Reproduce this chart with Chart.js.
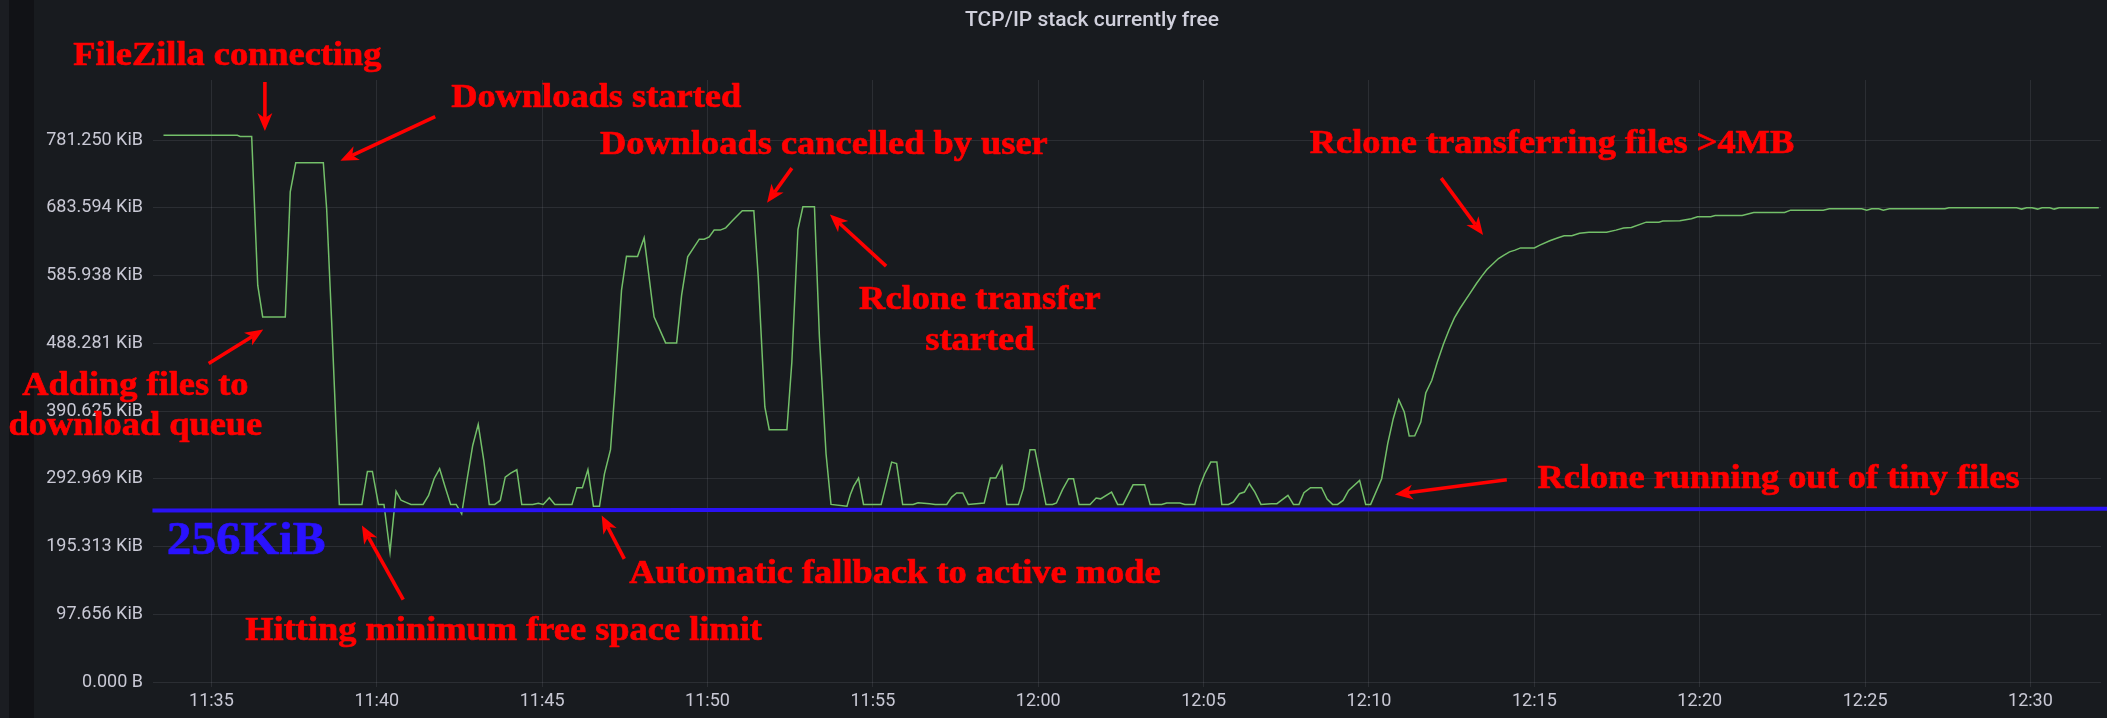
<!DOCTYPE html>
<html>
<head>
<meta charset="utf-8">
<script src="https://cdn.jsdelivr.net/npm/chart.js@4.4.1/dist/chart.umd.min.js"></script>
<style>
  html, body { margin: 0; padding: 0; background: #181b1f; }
  #wrap { width: 2107px; height: 718px; }
</style>
</head>
<body>
<div id="wrap"><canvas id="c" width="2107" height="718"></canvas></div>
<script>
// ---- data ----
const times = [
 '11:33:33','11:35:47','11:35:52','11:36:13','11:36:24','11:36:33','11:37:14','11:37:23','11:37:33','11:38:23',
 '11:38:29','11:38:38','11:38:52','11:39:33','11:39:43','11:39:52','11:40:03','11:40:13','11:40:24','11:40:35',
 '11:40:44','11:40:53','11:41:02','11:41:24','11:41:34','11:41:44','11:41:54','11:42:04','11:42:14','11:42:24',
 '11:42:34','11:42:44','11:42:54','11:43:04','11:43:14','11:43:24','11:43:34','11:43:44','11:43:53','11:44:03',
 '11:44:14','11:44:23','11:44:43','11:44:53','11:45:02','11:45:13','11:45:23','11:45:54','11:46:03','11:46:13',
 '11:46:23','11:46:33','11:46:44','11:46:53','11:47:04','11:47:12','11:47:24','11:47:33','11:47:53','11:48:05',
 '11:48:23','11:48:44','11:49:04','11:49:13','11:49:24','11:49:45','11:49:54','11:50:03','11:50:12','11:50:23',
 '11:50:33','11:50:45','11:51:03','11:51:24','11:51:32','11:51:44','11:51:52','11:52:24','11:52:33','11:52:44',
 '11:52:53','11:53:14','11:53:23','11:53:35','11:53:44','11:54:13','11:54:19','11:54:25','11:54:34','11:54:43',
 '11:55:15','11:55:34','11:55:43','11:55:54','11:56:13','11:56:22','11:56:43','11:56:53','11:57:14','11:57:23',
 '11:57:32','11:57:43','11:57:53','11:58:22','11:58:33','11:58:43','11:58:54','11:59:03','11:59:24','11:59:33',
 '11:59:45','11:59:54','12:00:04','12:00:14','12:00:26','12:00:33','12:00:44','12:00:55','12:01:04','12:01:14',
 '12:01:34','12:01:45','12:01:53','12:02:13','12:02:24','12:02:34','12:02:52','12:03:13','12:03:23','12:03:44',
 '12:03:53','12:04:17','12:04:26','12:04:44','12:04:53','12:05:02','12:05:13','12:05:24','12:05:33','12:05:45',
 '12:05:54','12:06:05','12:06:14','12:06:23','12:06:33','12:06:44','12:07:03','12:07:13','12:07:33','12:07:43',
 '12:07:53','12:08:02','12:08:14','12:08:34','12:08:44','12:08:54','12:09:03','12:09:13','12:09:23','12:09:43',
 '12:09:54','12:10:03','12:10:23','12:10:34','12:10:44','12:10:54','12:11:04','12:11:13','12:11:23','12:11:34',
 '12:11:43','12:11:54','12:12:04','12:12:15','12:12:25','12:12:35','12:12:45','12:12:55','12:13:05','12:13:15',
 '12:13:25','12:13:34','12:13:44','12:13:55','12:14:05','12:14:15','12:14:25','12:14:35','12:15:00','12:15:10',
 '12:15:28','12:15:43','12:15:54','12:16:08','12:16:22','12:16:39','12:17:11','12:17:28','12:17:42','12:17:56',
 '12:18:23','12:18:46','12:18:53','12:19:24','12:19:45','12:19:56','12:20:20','12:20:28','12:21:17','12:21:38',
 '12:22:34','12:22:45','12:23:44','12:23:55','12:24:54','12:25:03','12:25:12','12:25:25','12:25:33','12:25:44',
 '12:27:25','12:27:32','12:29:35','12:29:44','12:29:53','12:30:03','12:30:13','12:30:21','12:30:35','12:30:43',
 '12:30:52','12:32:04'
];
const freeKiB = [
 788,788,786.5,786.5,572,526.3,526.3,706.7,748.5,748.5,
 682.6,521.5,256,256,303.6,303.6,256,256,187.2,275,
 262,259,256,256,268.9,293,307.4,281,256,256,
 242.5,293,341,371.4,320,256,256,261.7,295.4,301,
 306,256,256,257.6,256,265.6,256,256,280,280,
 306,253.5,253.5,300,334.9,420.5,564.8,613.8,613.5,640.3,
 526.3,488.8,488.8,557.6,612.8,638.4,638.4,641.7,651.4,651.4,
 654.7,664.8,679.3,679.3,584,396.4,363.7,363.7,461.3,652.3,
 685,685,497.4,329.1,256,253.5,270,281.9,293.9,256,
 256,317,314.8,256,256,258.5,257,256,256,266.5,
 272.4,272.4,256,258,293.9,293.9,311.2,256,256,278.7,
 334.9,334.9,295.4,256,256,258,277.2,293,293,256,
 256,265.1,264,273.8,256,256,284.2,284.2,256,256,
 258,258,256,256,282,300.2,317,317,256,256,
 259.4,271.4,273.8,285.8,273.8,256,257,257,268.9,256,
 256,272.8,280,280,263.7,256,256,261.7,276.2,290.7,
 256,256,293,343.5,379.6,407,389.2,354.5,355,374.7,
 416.6,434.9,461.3,486.9,507.1,524.8,538.4,550.4,562.4,574.5,
 585.4,594.7,602.3,610.5,615.3,620.1,622.5,625.8,625.8,629.7,
 636,640.3,643.2,643.2,647,648.5,648.5,651.4,654.3,655.2,
 662.9,662.9,664.4,664.8,667.7,670.6,670.6,672.5,672.5,676.8,
 676.8,680.2,680.2,682.1,682.1,680.2,682.1,682.1,680.2,682.1,
 682.1,683.6,683.6,681.7,683.6,683.6,681.7,683.6,683.6,681.7,
 683.6,683.6
];
// hand-drawn "256KiB" reference line (slightly tilted in the picture)
const limitTimes = ['11:33:13','12:32:19'];
const limitKiB = [247.4, 249.6];

const yTicksKiB = [0, 97.65625, 195.3125, 292.96875, 390.625, 488.28125, 585.9375, 683.59375, 781.25];
const xTickLabels = ['11:35','11:40','11:45','11:50','11:55','12:00','12:05','12:10','12:15','12:20','12:25','12:30'];
const xRange = ['11:33:14','12:32:08'];
const yMaxKiB = 867.8;

// annotation texts, anchored in data space (time, KiB): centre / baseline
const notes = [
 {text:'FileZilla connecting', at:'11:35:29', kib:889.5},
 {text:'Downloads started', at:'11:46:38', kib:828.9},
 {text:'Downloads cancelled by user', at:'11:53:31', kib:761.0},
 {text:'Rclone transferring files >4MB', at:'12:15:32', kib:762.5},
 {text:'Rclone transfer', at:'11:58:14', kib:538.4},
 {text:'started', at:'11:58:14', kib:479.2},
 {text:'Adding files to', at:'11:32:42', kib:413.2},
 {text:'download queue', at:'11:32:42', kib:355.5},
 {text:'Hitting minimum free space limit', at:'11:43:50', kib:61.1},
 {text:'Automatic fallback to active mode', at:'11:55:40', kib:143.4},
 {text:'Rclone running out of tiny files', at:'12:22:23', kib:279.0}
];
const limitNote = {text:'256KiB', at:'11:36:03', kib:185.2};
const arrows = [
 {from:['11:36:37',864.9], to:['11:36:37',794.2]},
 {from:['11:41:46',814.9], to:['11:38:54',751.4]},
 {from:['11:34:55',459.0], to:['11:36:34',508.1]},
 {from:['11:40:48',118.9], to:['11:39:33',225.7]},
 {from:['11:47:29',177.6], to:['11:46:48',240.1]},
 {from:['11:52:33',740.8], to:['11:51:48',690.8]},
 {from:['11:55:24',599.4], to:['11:53:42',674.0]},
 {from:['12:12:11',726.4], to:['12:13:27',644.2]},
 {from:['12:14:10',291.6], to:['12:10:47',270.4]}
];
const chartTitle = 'TCP/IP stack currently free';

// ---- helpers ----
function toSec(t){ const p = t.split(':').map(Number); return p[0]*3600 + p[1]*60 + (p[2]||0); }
function fmtTime(s){ const h = Math.floor(s/3600), m = Math.round((s - h*3600)/60); return h + ':' + String(m).padStart(2,'0'); }

const seriesPoints = times.map((t,i) => ({x: toSec(t), y: freeKiB[i]}));
const limitPoints = limitTimes.map((t,i) => ({x: toSec(t), y: limitKiB[i]}));

const bgPlugin = {
  id: 'bg',
  beforeDraw(chart){
    const ctx = chart.ctx;
    ctx.save();
    ctx.fillStyle = '#181b1f';
    ctx.fillRect(0,0,chart.width,chart.height);
    ctx.fillStyle = '#1b1d22';
    ctx.fillRect(0,0,9,chart.height);
    ctx.fillStyle = '#111216';
    ctx.fillRect(9,0,25,chart.height);
    ctx.fillStyle = '#d0d0dc';
    ctx.font = '500 21px Roboto';
    ctx.textAlign = 'center';
    ctx.textBaseline = 'alphabetic';
    ctx.fillText(chartTitle, 1092, 26);
    ctx.restore();
  }
};

function drawArrow(ctx, x1, y1, x2, y2, color){
  const ang = Math.atan2(y2-y1, x2-x1);
  const L = 18, W = 7.5, notch = 5;
  ctx.save();
  ctx.strokeStyle = color; ctx.fillStyle = color; ctx.lineWidth = 3.6; ctx.lineCap = 'butt';
  ctx.beginPath();
  ctx.moveTo(x1, y1);
  ctx.lineTo(x2 - Math.cos(ang)*(L-notch), y2 - Math.sin(ang)*(L-notch));
  ctx.stroke();
  ctx.translate(x2, y2); ctx.rotate(ang);
  ctx.beginPath();
  ctx.moveTo(0,0); ctx.lineTo(-L, -W); ctx.lineTo(-L+notch, 0); ctx.lineTo(-L, W); ctx.closePath();
  ctx.fill();
  ctx.restore();
}
function drawNote(ctx, text, x, y, font, color){
  ctx.save();
  ctx.font = font; ctx.fillStyle = color; ctx.strokeStyle = color; ctx.lineWidth = 0.7; ctx.lineJoin = 'round';
  ctx.textAlign = 'center'; ctx.textBaseline = 'alphabetic';
  ctx.translate(x, y); ctx.scale(1.07, 1.02);
  ctx.fillText(text, 0, 0);
  ctx.strokeText(text, 0, 0);
  ctx.restore();
}
const notesPlugin = {
  id: 'notes',
  afterDatasetsDraw(chart){
    const ctx = chart.ctx, xs = chart.scales.x, ys = chart.scales.y;
    const px = t => xs.getPixelForValue(toSec(t));
    const py = v => ys.getPixelForValue(v);
    drawNote(ctx, limitNote.text, px(limitNote.at), py(limitNote.kib), 'bold 46px "Liberation Serif"', '#2a12ff');
    arrows.forEach(a => drawArrow(ctx, px(a.from[0]), py(a.from[1]), px(a.to[0]), py(a.to[1]), '#ff0000'));
    notes.forEach(n => drawNote(ctx, n.text, px(n.at), py(n.kib), 'bold 34px "Liberation Serif"', '#ff0000'));
  }
};

new Chart(document.getElementById('c'), {
  type: 'line',
  data: {
    datasets: [
      { label: '256KiB', data: limitPoints, borderColor: '#2a12f5', borderWidth: 4, pointRadius: 0, clip: false, order: 0, tension: 0 },
      { label: 'TCP/IP stack currently free', data: seriesPoints, borderColor: '#73bf69', borderWidth: 1.5, pointRadius: 0, order: 1, tension: 0, fill: false }
    ]
  },
  options: {
    responsive: false,
    devicePixelRatio: 1,
    animation: false,
    layout: { padding: { left: 0, right: 6, top: 80, bottom: 0 } },
    plugins: { legend: { display: false }, tooltip: { enabled: false }, title: { display: false } },
    scales: {
      x: {
        type: 'linear',
        min: toSec(xRange[0]), max: toSec(xRange[1]),
        afterBuildTicks: s => { s.ticks = xTickLabels.map(l => ({value: toSec(l)})); },
        afterFit: s => { s.height = 36; },
        border: { display: false },
        grid: { color: 'rgba(204,204,220,0.11)', lineWidth: 1, drawTicks: true, tickLength: 5 },
        ticks: { color: '#c8c8d4', font: { family: 'Roboto', size: 18 }, padding: 4, maxRotation: 0, autoSkip: false,
                 callback: v => fmtTime(v) }
      },
      y: {
        min: 0, max: yMaxKiB,
        afterBuildTicks: s => { s.ticks = yTicksKiB.map(v => ({value: v})); },
        afterFit: s => { s.width = 153; },
        border: { display: false },
        grid: { color: 'rgba(204,204,220,0.11)', lineWidth: 1, drawTicks: false },
        ticks: { color: '#c8c8d4', font: { family: 'Roboto', size: 18 }, padding: 10,
                 callback: v => v === 0 ? '0.000 B' : v.toFixed(3) + ' KiB' }
      }
    }
  },
  plugins: [bgPlugin, notesPlugin]
});
</script>
</body>
</html>
